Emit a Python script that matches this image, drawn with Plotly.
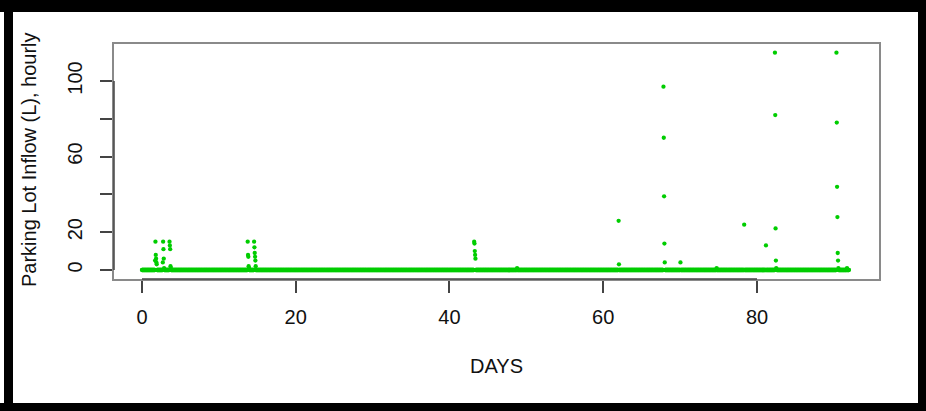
import numpy as np
import plotly.graph_objects as go

# ---- data ----
n_days = 92
hours_per_day = 24
days = np.arange(n_days * hours_per_day) / hours_per_day  # hourly time axis (days)

spike_days = [1.71, 1.75, 1.79, 1.83, 1.88, 1.92,
              2.71, 2.75, 2.79, 2.83, 2.88,
              3.58, 3.63, 3.67, 3.71, 3.75,
              13.75, 13.79, 13.83, 13.88, 13.92,
              14.58, 14.63, 14.67, 14.71, 14.75, 14.79,
              43.21, 43.25, 43.29, 43.33, 43.38,
              48.79,
              62.0, 62.04,
              67.83, 67.88, 67.92, 67.96, 68.0,
              70.04,
              74.75,
              78.33,
              81.17,
              82.33, 82.38, 82.42, 82.46, 82.5, 82.54,
              90.33, 90.38, 90.42, 90.46, 90.5, 90.54, 90.58,
              91.71]
spike_values = [5, 15, 8, 6, 4, 3,
                4, 15, 11, 6, 1,
                15, 13, 11, 2, 1,
                15, 8, 7, 2, 1,
                15, 12, 9, 7, 5, 2,
                15, 14, 10, 8, 6,
                1,
                26, 3,
                97, 70, 39, 14, 4,
                4,
                1,
                24,
                13,
                115, 82, 22, 5, 1, 0.5,
                115, 78, 44, 28, 9, 5, 1,
                1]

inflow = np.zeros(len(days))
for d, v in zip(spike_days, spike_values):
    inflow[int(round(d * hours_per_day))] = v

x_ticks = [0, 20, 40, 60, 80]
y_ticks = [0, 20, 40, 60, 80, 100]
y_tick_text = ["0", "20", "", "60", "", "100"]

# ---- layout geometry (pixels) ----
W, H = 926, 411
L, R, T, B = 114, 879, 44, 279
pw, ph = R - L, B - T


def px(p):
    return (p - L) / pw


def py(p):
    return (B - p) / ph


green = "#00CD00"
font = "Liberation Sans, Arial, Helvetica, sans-serif"
fs = 20

fig = go.Figure()
fig.add_trace(go.Scatter(
    x=days, y=inflow, mode="markers",
    marker=dict(color=green, size=4.3, line=dict(width=0)),
    hoverinfo="x+y", showlegend=False,
))

axis_common = dict(
    showgrid=False, zeroline=False,
    showline=True, mirror=True, linecolor="#8a8a8a", linewidth=1.5,
    ticks="outside", ticklen=12, tickwidth=1.5, tickcolor="#444444",
    tickfont=dict(family=font, size=fs, color="#111111"),
)

fig.update_layout(
    width=W, height=H,
    margin=dict(l=L, r=W - R, t=T, b=H - B),
    paper_bgcolor="white", plot_bgcolor="white",
    xaxis=dict(range=[-3.64, 95.87], tickvals=x_ticks,
               ticktext=[str(v) for v in x_ticks],
               ticklabelstandoff=7, **axis_common),
    yaxis=dict(range=[-4.76, 119.6], tickvals=y_ticks, ticktext=y_tick_text,
               tickangle=-90, ticklabelstandoff=10, **axis_common),
    font=dict(family=font, size=fs, color="#111111"),
)

# dark axis segments (first to last tick), like R's axis()
fig.add_shape(type="line", xref="x", yref="paper", x0=0, x1=80, y0=0, y1=0,
              line=dict(color="#444444", width=1.5))
fig.add_shape(type="line", xref="paper", yref="y", x0=0, x1=0, y0=0, y1=100,
              line=dict(color="#444444", width=1.5))

# axis titles
fig.add_annotation(text="DAYS", xref="paper", yref="paper", x=0.5, y=py(366),
                   showarrow=False, font=dict(family=font, size=fs, color="#111111"),
                   xanchor="center", yanchor="middle")
fig.add_annotation(text="Parking Lot Inflow (L), hourly", xref="paper", yref="paper",
                   x=px(29), y=py(160), textangle=-90, showarrow=False,
                   font=dict(family=font, size=fs, color="#111111"),
                   xanchor="center", yanchor="middle")

# black window frame
frame = [
    (0, W, 0, 12),        # top
    (4, 13, 0, H),        # left
    (0, W, 403, H),       # bottom
    (918, W, 0, H),       # right
]
for x0, x1, y0, y1 in frame:
    fig.add_shape(type="rect", xref="paper", yref="paper",
                  x0=px(x0), x1=px(x1), y0=py(y1), y1=py(y0),
                  fillcolor="black", line=dict(width=0), layer="above")

fig.write_html("out.html", config={"displayModeBar": False})

# remove the browser's default page margin so the figure sits at (0, 0)
with open("out.html", encoding="utf-8") as f:
    html = f.read()
html = html.replace("<head>", "<head><style>html,body{margin:0;padding:0;overflow:hidden;}</style>", 1)
with open("out.html", "w", encoding="utf-8") as f:
    f.write(html)
